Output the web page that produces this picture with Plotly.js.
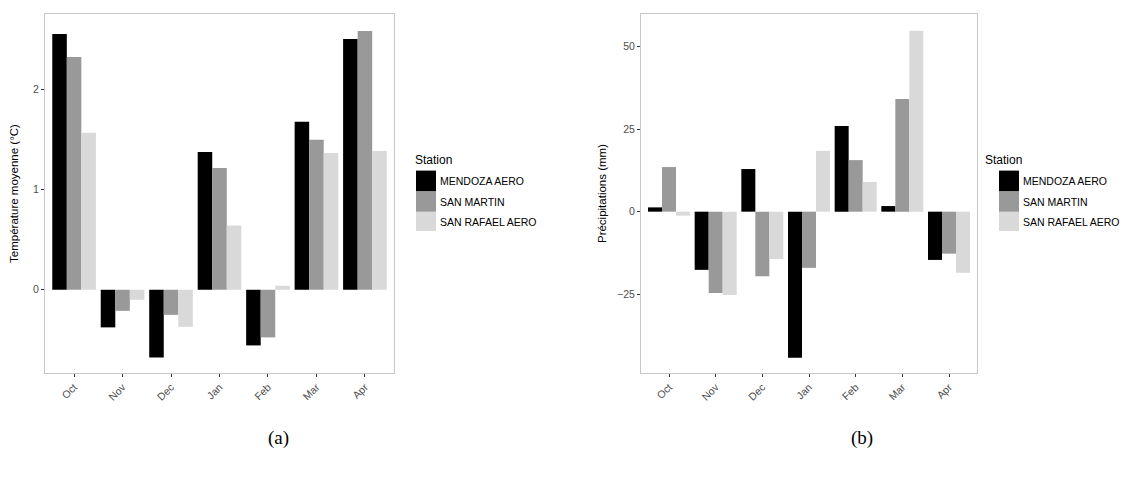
<!DOCTYPE html>
<html>
<head>
<meta charset="utf-8">
<script src="https://cdn.plot.ly/plotly-3.0.1.min.js"></script>
<style>html,body{margin:0;padding:0;background:#fff;}#chart{width:1129px;height:477px;}</style>
</head>
<body>
<div id="chart"></div>
<script>
const months = ['Oct','Nov','Dec','Jan','Feb','Mar','Apr'];
const stations = ['MENDOZA AERO','SAN MARTIN','SAN RAFAEL AERO'];
const stationColors = ['#000000','#999999','#d9d9d9'];
const tempMendoza   = [2.55, -0.375, -0.675, 1.375, -0.555, 1.675, 2.50];
const tempSanMartin = [2.32, -0.21, -0.25, 1.215, -0.475, 1.495, 2.58];
const tempSanRafael = [1.565, -0.10, -0.37, 0.64, 0.04, 1.365, 1.385];
const precMendoza   = [1.3, -17.6, 12.9, -44.2, 25.9, 1.7, -14.6];
const precSanMartin = [13.5, -24.6, -19.5, -17.0, 15.6, 34.1, -12.7];
const precSanRafael = [-1.2, -25.2, -14.3, 18.4, 9.0, 54.7, -18.5];

const tempSeries = [tempMendoza, tempSanMartin, tempSanRafael];
const precSeries = [precMendoza, precSanMartin, precSanRafael];

const FONT = 'Liberation Sans, Arial, Helvetica, sans-serif';
const traces = [];
tempSeries.forEach((vals, i) => {
  traces.push({type:'bar', x: months, y: vals, name: stations[i], xaxis:'x', yaxis:'y',
    marker:{color: stationColors[i], line:{width:0}}, legend:'legend', hoverinfo:'none'});
});
precSeries.forEach((vals, i) => {
  traces.push({type:'bar', x: months, y: vals, name: stations[i], xaxis:'x2', yaxis:'y2',
    marker:{color: stationColors[i], line:{width:0}}, legend:'legend2', hoverinfo:'none'});
});

const W = 1129, H = 477;
const yDom = [1 - 373/H, 1 - 14/H];
const commonX = {
  type:'category', range:[-0.6, 6.6], tickangle:-45, ticks:'outside', ticklen:3, tickwidth:1,
  tickcolor:'#333333', tickfont:{size:10.5, color:'#4d4d4d', family:FONT},
  showline:true, mirror:true, linecolor:'#c8c8c8', linewidth:1, showgrid:false, zeroline:false,
  automargin:false, fixedrange:true
};
const commonY = {
  ticks:'outside', ticklen:3, tickwidth:1, tickcolor:'#333333',
  tickfont:{size:10.5, color:'#4d4d4d', family:FONT},
  showline:true, mirror:true, linecolor:'#c8c8c8', linewidth:1, showgrid:false, zeroline:false,
  automargin:false, fixedrange:true, domain: yDom
};
const legendCommon = {
  xanchor:'left', yanchor:'top', y: 1 - 148/H, bgcolor:'rgba(0,0,0,0)', borderwidth:0,
  font:{size:10.5, family:FONT, color:'#000'}, title:{text:'Station', font:{size:12, family:FONT, color:'#000'}},
  tracegroupgap:0, itemclick:false, itemdoubleclick:false
};

const layout = {
  width:W, height:H, margin:{l:0,r:0,t:0,b:0}, paper_bgcolor:'#fff', plot_bgcolor:'#fff',
  barmode:'group', bargap:0.1, bargroupgap:0, font:{family:FONT},
  xaxis: Object.assign({}, commonX, {domain:[45/W, 394/W], anchor:'y'}),
  yaxis: Object.assign({}, commonY, {anchor:'x', range:[-0.83, 2.75], tick0:0, dtick:1,
    title:{text:'Température moyenne (°C)', font:{size:11.5, color:'#000', family:FONT}, standoff:12}}),
  xaxis2: Object.assign({}, commonX, {domain:[641/W, 977/W], anchor:'y2'}),
  yaxis2: Object.assign({}, commonY, {anchor:'x2', range:[-48.8, 59.8], tick0:0, dtick:25,
    title:{text:'Précipitations (mm)', font:{size:11.5, color:'#000', family:FONT}, standoff:8}}),
  legend: Object.assign({}, legendCommon, {x: 400/W}),
  legend2: Object.assign({}, legendCommon, {x: 983/W}),
  showlegend:true,
  annotations:[
    {text:'(a)', xref:'paper', yref:'paper', x:278/W, y:1-438/H, showarrow:false,
     font:{family:'Liberation Serif, DejaVu Serif, serif', size:19, color:'#000'}, xanchor:'center', yanchor:'middle'},
    {text:'(b)', xref:'paper', yref:'paper', x:862/W, y:1-438/H, showarrow:false,
     font:{family:'Liberation Serif, DejaVu Serif, serif', size:19, color:'#000'}, xanchor:'center', yanchor:'middle'}
  ]
};

Plotly.newPlot('chart', traces, layout, {staticPlot:true, displayModeBar:false}).then(() => {
  // ggplot-style legend keys: larger contiguous squares next to the labels
  document.querySelectorAll('.legendpoints path').forEach(p => {
    p.setAttribute('d', 'M16,10.5H-4V-10.5H16Z');
  });
  document.querySelectorAll('g.legend, g.legend2, g[class^="legend"]').forEach(lg => {
    const items = lg.querySelectorAll('g.traces');
    items.forEach((it, i) => {
      const tr = it.getAttribute('transform') || '';
      const m = tr.match(/translate\(\s*([-\d.]+)[ ,]+([-\d.]+)\s*\)/);
      if (m) {
        const x = parseFloat(m[1]), y = parseFloat(m[2]);
        it.setAttribute('transform', 'translate(' + x + ',' + (y + 3 + i * 1.5) + ')');
      }
    });
  });
  // align the legend title with the key column, as ggplot does
  document.querySelectorAll('.legendtitletext').forEach(t => {
    const x = parseFloat(t.getAttribute('x') || '0');
    t.setAttribute('x', x + 13);
  });
});
</script>
</body>
</html>
